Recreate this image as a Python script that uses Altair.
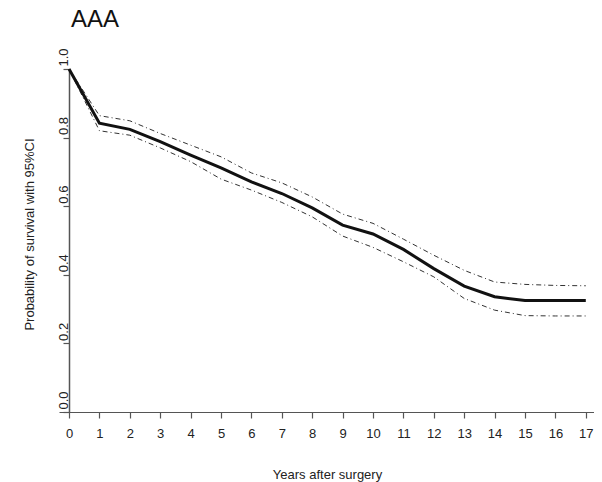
import altair as alt
import pandas as pd

years = list(range(0, 18))
survival = [1.0, 0.842, 0.824, 0.788, 0.749, 0.712, 0.671, 0.637, 0.595, 0.545,
            0.519, 0.474, 0.418, 0.367, 0.336, 0.325, 0.325, 0.325]
upper_ci = [1.0, 0.864, 0.849, 0.812, 0.778, 0.744, 0.697, 0.668, 0.627, 0.577,
            0.550, 0.504, 0.457, 0.413, 0.379, 0.372, 0.369, 0.368]
lower_ci = [1.0, 0.820, 0.807, 0.770, 0.730, 0.679, 0.647, 0.611, 0.569, 0.513,
            0.480, 0.438, 0.394, 0.331, 0.297, 0.281, 0.280, 0.280]

y_ticks = [0.0, 0.2, 0.4, 0.6, 0.8, 1.0]

main_df = pd.DataFrame({"year": years, "value": survival})
ci_df = pd.concat([
    pd.DataFrame({"year": years, "value": upper_ci, "series": "upper"}),
    pd.DataFrame({"year": years, "value": lower_ci, "series": "lower"}),
])

FONT = "Liberation Sans"
AXIS_COLOR = "#555555"

x_scale = alt.Scale(domain=[-0.33, 17.27], nice=False, zero=False)
y_scale = alt.Scale(domain=[0, 1], nice=False)

x_axis = alt.Axis(
    values=years, title="Years after surgery", grid=False,
    labelOverlap=False, labelFlush=False, format="d",
    tickSize=6, labelPadding=9, labelFontSize=13, labelFont=FONT, labelColor="#222",
    titleFont=FONT, titleFontSize=13, titleFontWeight="normal", titleColor="#222",
    titleX=268, titleY=66, titleBaseline="alphabetic", titleAlign="center", titleAnchor="start",
    domainColor=AXIS_COLOR, tickColor=AXIS_COLOR, domainWidth=1.2, tickWidth=1.2,
)
y_axis = alt.Axis(
    values=y_ticks, format=".1f", title="Probability of survival with 95%CI", grid=False,
    labelOverlap=False, labelFlush=False,
    offset=-10, tickSize=6, labelAngle=270, labelAlign="left", labelBaseline="alphabetic",
    labelPadding=-4, labelOffset=-3, labelFontSize=13, labelFont=FONT, labelColor="#222",
    titleFont=FONT, titleFontSize=13, titleFontWeight="normal", titleColor="#222",
    titleAngle=270, titleX=-36, titleY=165, titleAlign="center", titleBaseline="alphabetic",
    titleAnchor="start",
    domainColor=AXIS_COLOR, tickColor=AXIS_COLOR, domainWidth=1.5, tickWidth=1.2,
)

main_line = alt.Chart(main_df).mark_line(color="#111111", strokeWidth=3).encode(
    x=alt.X("year:Q", scale=x_scale, axis=x_axis),
    y=alt.Y("value:Q", scale=y_scale, axis=y_axis),
)

ci_lines = alt.Chart(ci_df).mark_line(color="#333333", strokeWidth=1, strokeDash=[5, 3, 1, 3]).encode(
    x=alt.X("year:Q", scale=x_scale, axis=x_axis),
    y=alt.Y("value:Q", scale=y_scale, axis=y_axis),
    detail="series:N",
)

chart = alt.layer(ci_lines, main_line).properties(
    width=535,
    height=343,
    title=alt.TitleParams("AAA", anchor="start", frame="group", font=FONT, fontSize=24,
                          fontWeight="normal", color="#111", dx=12, offset=16),
    autosize=alt.AutoSizeParams(type="none"),
    padding={"left": 51, "top": 61, "right": 0, "bottom": 74},
).configure_view(stroke=None)

chart.save("out.html", embed_options={"renderer": "svg", "actions": False})
